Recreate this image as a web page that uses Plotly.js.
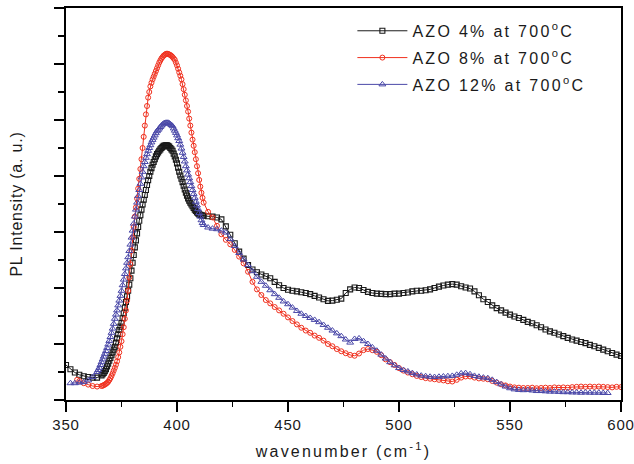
<!DOCTYPE html>
<html>
<head>
<meta charset="utf-8">
<script src="https://cdn.plot.ly/plotly-3.0.1.min.js"></script>
<style>
  html, body { margin: 0; padding: 0; background: #fff; }
  #chart { width: 634px; height: 464px; }
  .legendtext { letter-spacing: 2.3px; }
  .xtitle { letter-spacing: 2.2px; }
  .ytitle { letter-spacing: 0.8px; }
  .xtick text { letter-spacing: 0.8px; }
</style>
</head>
<body>
<div id="chart"></div>
<script>
// ---- shared wavenumber samples ----
const xFine = [
  366,366.5,367,367.5,368,368.5,369,369.5,370,370.5,
  371,371.5,372,372.5,373,373.5,374,374.5,375,375.5,
  376,376.5,377,377.5,378,378.5,379,379.5,380,380.5,
  381,381.5,382,382.5,383,383.5,384,384.5,385,385.5,
  386,386.5,387,387.5,388,388.5,389,389.5,390,390.5,
  391,391.5,392,392.5,393,393.5,394,394.5,395,395.5,
  396,396.5,397,397.5,398,398.5,399,399.5,400,400.5,
  401,401.5,402,402.5,403,403.5,404,404.5,405,405.5,
  406,406.5,407,407.5,408,408.5,409,409.5,410,410.5,
  411,411.5,412
];
const xCoarse = [
  414,416,418,420,422,424,426,428,430,432,
  434,436,438,440,442,444,446,448,450,452,
  454,456,458,460,462,464,466,468,470,472,
  474,476,478,480,482,484,486,488,490,492,
  494,496,498,500,502,504,506,508,510,512,
  514,516,518,520,522,524,526,528,530,532,
  534,536,538,540,542,544,546,548,550,552,
  554,556,558,560,562,564,566,568,570,572,
  574,576,578,580,582,584,586,588,590,592,
  594,596,598,600
];
const xCoarse12 = [
  414,416,418,420,422,424,426,428,430,432,
  434,436,438,440,442,444,446,448,450,452,
  454,456,458,460,462,464,466,468,470,472,
  474,476,478,480,482,484,486,488,490,492,
  494,496,498,500,502,504,506,508,510,512,
  514,516,518,520,522,524,526,528,530,532,
  534,536,538,540,542,544,546,548,550,552,
  554,556,558,560,562,564,566,568,570,572,
  574,576,578,580,582,584,586,588,590,592,
  594
];
const xStart4 = [350,352,354,356,358,360,362,364];
const xStart8 = [355,356,358,360,362,364];
const xStart12 = [352,354,356,358,360,362,364,364.5,365,365.5];

// ---- AZO 4% at 700 C ----
const y4 = [
  1.25,1.1,0.98,0.9,0.85,0.82,0.8,0.8,
  0.88,0.92,0.97,1.03,1.1,1.2,1.3,1.4,1.5,1.6,
  1.7,1.8,1.9,2.05,2.2,2.35,2.5,2.62,2.75,2.92,
  3.1,3.3,3.5,3.7,3.9,4.12,4.35,4.62,4.9,5.18,
  5.45,5.7,5.95,6.18,6.4,6.6,6.8,6.98,7.15,7.32,
  7.5,7.68,7.85,8.0,8.15,8.28,8.4,8.5,8.6,8.7,
  8.78,8.84,8.9,8.95,9.0,9.04,9.08,9.09,9.1,9.1,
  9.08,9.05,9.0,8.95,8.9,8.8,8.7,8.58,8.45,8.3,
  8.15,8.02,7.9,7.78,7.65,7.52,7.4,7.3,7.2,7.12,
  7.05,6.98,6.92,6.86,6.8,6.75,6.7,6.66,6.63,6.61,
  6.6,6.59,6.58,
  6.56,6.55,6.52,6.45,6.2,5.9,5.6,5.3,5.05,4.82,
  4.66,4.56,4.48,4.42,4.35,4.22,4.1,4.0,3.94,3.9,
  3.88,3.85,3.82,3.78,3.72,3.66,3.6,3.54,3.55,3.58,
  3.62,3.82,3.95,4.02,4.0,3.93,3.86,3.82,3.8,3.79,
  3.78,3.78,3.8,3.8,3.82,3.84,3.88,3.9,3.9,3.92,
  3.95,4.0,4.05,4.09,4.12,4.14,4.12,4.06,4.02,3.98,
  3.88,3.74,3.6,3.5,3.38,3.28,3.2,3.12,3.05,2.98,
  2.93,2.86,2.79,2.74,2.67,2.6,2.52,2.45,2.4,2.34,
  2.28,2.22,2.16,2.12,2.07,2.03,1.97,1.92,1.86,1.8,
  1.74,1.68,1.62,1.57
];

// ---- AZO 8% at 700 C ----
const y8 = [
  0.72,0.68,0.6,0.55,0.5,0.48,
  0.5,0.51,0.53,0.55,0.58,0.61,0.65,0.71,0.78,0.86,
  0.95,1.05,1.15,1.26,1.38,1.53,1.7,1.9,2.1,2.35,
  2.6,2.9,3.2,3.55,3.9,4.38,4.85,5.33,5.8,6.18,
  6.55,6.88,7.2,7.55,7.9,8.25,8.6,9.0,9.4,9.8,
  10.2,10.5,10.8,11.0,11.2,11.33,11.45,11.55,11.65,11.75,
  11.85,11.95,12.05,12.13,12.2,12.25,12.3,12.33,12.36,12.37,
  12.36,12.34,12.32,12.29,12.25,12.2,12.15,12.05,11.95,11.83,
  11.7,11.58,11.45,11.28,11.1,10.9,10.7,10.5,10.3,10.05,
  9.8,9.55,9.3,9.08,8.85,8.6,8.35,8.1,7.86,7.62,
  7.4,7.22,7.05,
  6.72,6.52,6.22,5.92,5.72,5.56,5.36,5.12,4.88,4.58,
  4.22,3.95,3.75,3.57,3.45,3.32,3.2,3.08,2.95,2.82,
  2.7,2.58,2.48,2.4,2.3,2.22,2.12,2.0,1.92,1.82,
  1.74,1.67,1.61,1.58,1.66,1.78,1.82,1.78,1.72,1.6,
  1.45,1.35,1.25,1.14,1.05,0.98,0.92,0.86,0.82,0.78,
  0.76,0.74,0.72,0.7,0.67,0.66,0.72,0.8,0.84,0.84,
  0.8,0.77,0.76,0.74,0.68,0.62,0.56,0.52,0.48,0.45,
  0.44,0.43,0.43,0.44,0.42,0.43,0.44,0.43,0.45,0.44,
  0.45,0.44,0.46,0.47,0.48,0.47,0.48,0.47,0.48,0.47,
  0.46,0.45,0.47,0.46
];

// ---- AZO 12% at 700 C ----
const y12 = [
  0.6,0.6,0.62,0.64,0.7,0.82,1.0,1.07,1.15,1.25,
  1.35,1.45,1.55,1.65,1.75,1.86,1.98,2.11,2.25,2.4,
  2.55,2.72,2.9,3.05,3.2,3.38,3.55,3.72,3.9,4.1,
  4.3,4.5,4.7,4.9,5.1,5.32,5.55,5.8,6.05,6.3,
  6.55,6.8,7.05,7.28,7.5,7.72,7.95,8.15,8.35,8.5,
  8.65,8.78,8.9,9.0,9.1,9.2,9.29,9.37,9.45,9.53,
  9.6,9.65,9.7,9.75,9.8,9.84,9.87,9.89,9.9,9.9,
  9.9,9.88,9.85,9.82,9.78,9.7,9.62,9.54,9.45,9.35,
  9.25,9.12,8.98,8.83,8.68,8.52,8.35,8.2,8.05,7.92,
  7.78,7.64,7.5,7.36,7.22,7.08,6.95,6.82,6.68,6.55,
  6.42,6.32,6.25,
  6.16,6.12,6.1,6.05,5.98,5.75,5.5,5.25,5.02,4.82,
  4.6,4.4,4.22,4.08,3.92,3.78,3.65,3.52,3.42,3.3,
  3.18,3.08,3.0,2.93,2.86,2.78,2.68,2.58,2.48,2.38,
  2.28,2.16,2.05,2.18,2.2,2.1,2.0,1.88,1.76,1.62,
  1.48,1.35,1.24,1.14,1.07,1.02,0.96,0.91,0.87,0.85,
  0.83,0.82,0.83,0.84,0.85,0.86,0.9,0.95,0.96,0.92,
  0.86,0.83,0.8,0.78,0.72,0.64,0.56,0.48,0.42,0.38,
  0.36,0.35,0.36,0.34,0.32,0.32,0.31,0.3,0.3,0.29,
  0.28,0.28,0.27,0.27,0.26,0.27,0.26,0.26,0.26,0.25,
  0.25
];

const seriesNames = [
  'AZO 4% at 700<sup>o</sup>C',
  'AZO 8% at 700<sup>o</sup>C',
  'AZO 12% at 700<sup>o</sup>C'
];

const x4 = xStart4.concat(xFine, xCoarse);
const x8 = xStart8.concat(xFine, xCoarse);
const x12 = xStart12.concat(xFine, xCoarse12);

const FONT = 'Liberation Sans, Arial, Helvetica, sans-serif';

const traces = [
  {
    x: x4, y: y4, name: seriesNames[0], legendgroup: 'g4', type: 'scatter', mode: 'lines+markers',
    line: {color: '#1a1a1a', width: 1},
    marker: {symbol: 'square-open', size: 5, color: '#1a1a1a', line: {width: 1.1, color: '#1a1a1a'}}
  },
  {
    x: x8, y: y8, name: seriesNames[1], legendgroup: 'g8', type: 'scatter', mode: 'lines+markers',
    line: {color: '#f0301e', width: 1},
    marker: {symbol: 'circle-open', size: 5, color: '#f0301e', line: {width: 1, color: '#f0301e'}}
  },
  {
    x: x12, y: y12, name: seriesNames[2], legendgroup: 'g12', type: 'scatter', mode: 'lines+markers',
    line: {color: '#4a48a8', width: 1},
    marker: {symbol: 'triangle-up-open', size: 6, color: '#4a48a8', line: {width: 1, color: '#4a48a8'}}
  }
];

const layout = {
  width: 634, height: 464,
  margin: {l: 66, r: 13, t: 8, b: 64},
  paper_bgcolor: '#ffffff', plot_bgcolor: '#ffffff',
  font: {family: FONT, color: '#1a1a1a', size: 15},
  showlegend: true,
  legend: {
    x: 0.516, y: 0.985, xanchor: 'left', yanchor: 'top',
    bgcolor: 'rgba(0,0,0,0)', borderwidth: 0,
    font: {family: FONT, size: 16, color: '#1a1a1a'},
    itemwidth: 50, traceorder: 'grouped', tracegroupgap: 3
  },
  xaxis: {
    range: [350, 600], dtick: 50, tick0: 350,
    showgrid: false, zeroline: false,
    showline: true, linecolor: '#000', linewidth: 2, mirror: true,
    ticks: 'outside', ticklen: 10, tickwidth: 1.5, tickcolor: '#000',
    ticklabeloverflow: 'allow',
    minor: {dtick: 25, ticks: 'outside', ticklen: 5, tickwidth: 1.5, tickcolor: '#000', showgrid: false},
    tickfont: {family: FONT, size: 15, color: '#1a1a1a'},
    title: {text: 'wavenumber (cm<sup>-1</sup>)', font: {family: FONT, size: 16, color: '#1a1a1a'}, standoff: 14}
  },
  yaxis: {
    range: [0, 14], dtick: 2, tick0: 0,
    showgrid: false, zeroline: false, showticklabels: false,
    showline: true, linecolor: '#000', linewidth: 2, mirror: true,
    ticks: 'outside', ticklen: 10, tickwidth: 1.5, tickcolor: '#000',
    minor: {dtick: 1, ticks: 'outside', ticklen: 6, tickwidth: 1.5, tickcolor: '#000', showgrid: false},
    title: {text: 'PL Intensity (a. u.)', font: {family: FONT, size: 16, color: '#1a1a1a'}, standoff: 27}
  }
};

Plotly.newPlot('chart', traces, layout, {displayModeBar: false, staticPlot: true});
</script>
</body>
</html>
